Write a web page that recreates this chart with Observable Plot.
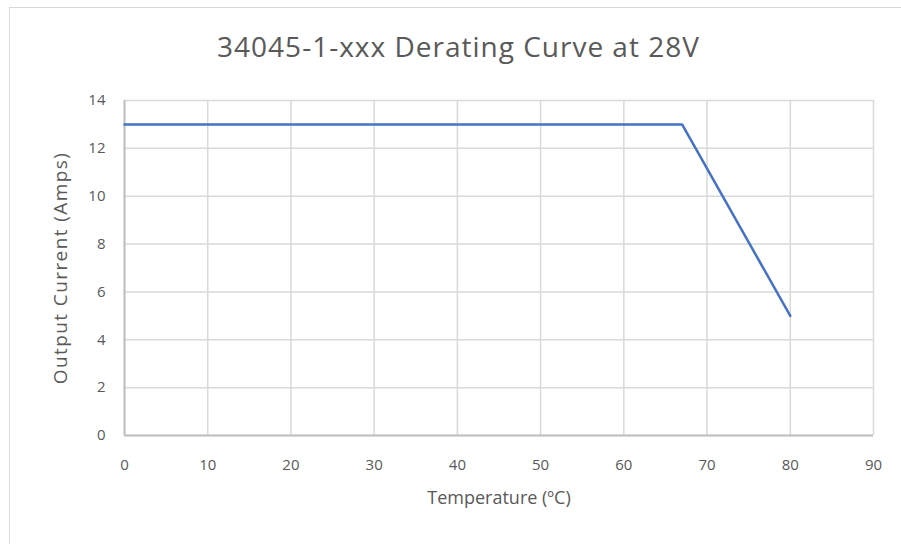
<!DOCTYPE html>
<html>
<head>
<meta charset="utf-8">
<script src="https://cdn.jsdelivr.net/npm/d3@7"></script>
<script src="https://cdn.jsdelivr.net/npm/@observablehq/plot@0.6"></script>
<style>
  html, body { margin: 0; padding: 0; background: #fff; }
  #wrap { position: relative; width: 901px; height: 544px; overflow: hidden; font-family: "Open Sans", Lato, sans-serif; }
  #frame { position: absolute; left: 9px; top: 7px; width: 920px; height: 560px; border: 1.5px solid #d9d9d9; box-sizing: border-box; }
  #title { position: absolute; left: 0; top: 27px; width: 917px; text-align: center; font-size: 28px; letter-spacing: 1px; color: #595959; }
  #chart { position: absolute; left: 0; top: 80px; }
  #chart svg { overflow: visible; }
  .ylab text { letter-spacing: 1.4px; }
</style>
</head>
<body>
<div id="wrap">
  <div id="frame"></div>
  <div id="title">34045-1-xxx Derating Curve at 28V</div>
  <div id="chart"></div>
</div>
<script>
const temperature = [0, 67, 80];
const current = [13, 13, 5];
const xTicks = [0, 10, 20, 30, 40, 50, 60, 70, 80, 90];
const yTicks = [0, 2, 4, 6, 8, 10, 12, 14];

const data = temperature.map((t, i) => ({t, c: current[i]}));

const chart = Plot.plot({
  width: 901,
  height: 464,
  marginLeft: 124,
  marginRight: 28,
  marginTop: 20,
  marginBottom: 109,
  style: {fontFamily: "'Open Sans', Lato, sans-serif", fontSize: "15px", color: "#595959", background: "transparent", overflow: "visible"},
  x: {domain: [0, 90], ticks: xTicks, label: null},
  y: {domain: [0, 14], ticks: yTicks, label: null},
  marks: [
    Plot.gridX(xTicks, {stroke: "#d9d9d9", strokeOpacity: 1, strokeWidth: 1.5}),
    Plot.gridY(yTicks, {stroke: "#d9d9d9", strokeOpacity: 1, strokeWidth: 1.5}),
    Plot.ruleY([0], {stroke: "#bfbfbf", strokeWidth: 2}),
    Plot.ruleX([0], {stroke: "#bfbfbf", strokeWidth: 2}),
    Plot.axisX(xTicks, {tickSize: 0, tickPadding: 24, fill: "#595959", fontSize: 15, label: null}),
    Plot.axisY(yTicks, {tickSize: 0, tickPadding: 19, fill: "#595959", fontSize: 15, label: null}),
    Plot.line(data, {x: "t", y: "c", stroke: "#4472c4", strokeWidth: 2.5}),
    Plot.text(["Temperature (\u00baC)"], {frameAnchor: "bottom", dy: 68, fontSize: 18, fill: "#595959"}),
    Plot.text(["Output Current (Amps)"], {frameAnchor: "left", dx: -64, rotate: -90, textAnchor: "middle", fontSize: 19, fill: "#595959", className: "ylab"})
  ]
});
document.getElementById("chart").appendChild(chart);
</script>
</body>
</html>
